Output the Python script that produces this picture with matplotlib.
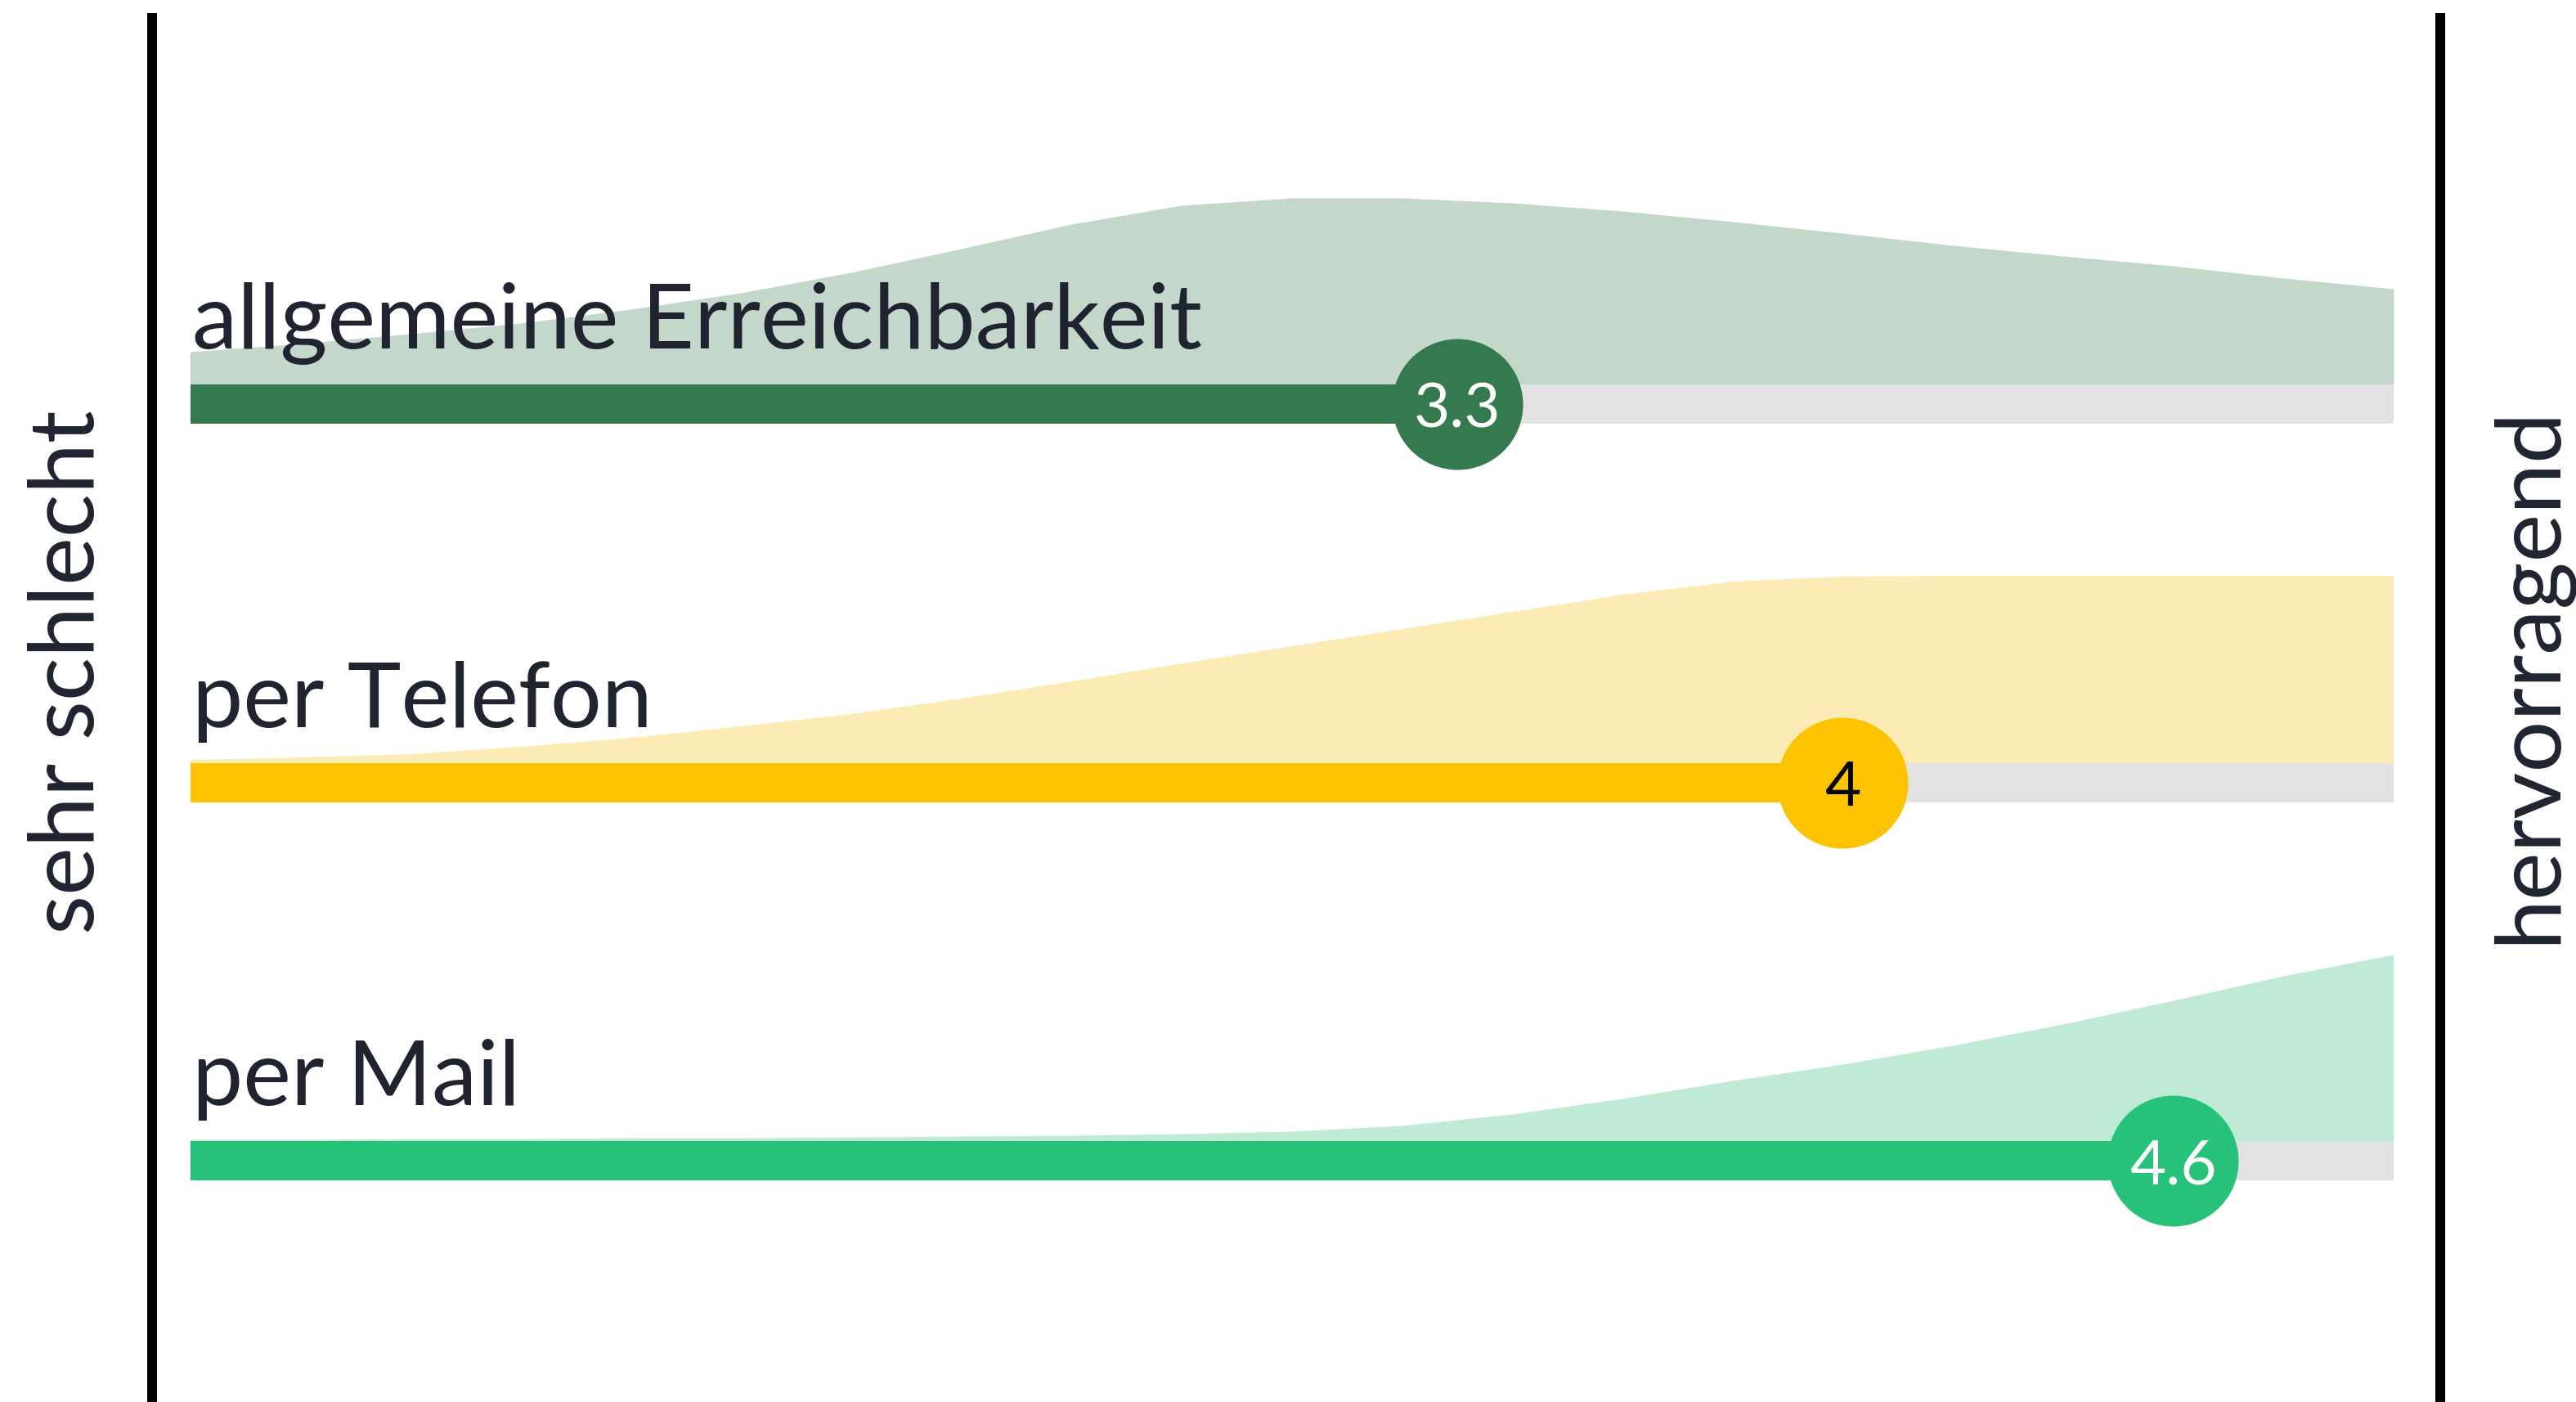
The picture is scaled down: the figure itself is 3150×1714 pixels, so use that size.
import numpy as np
import matplotlib
matplotlib.use("Agg")
import matplotlib.pyplot as plt

# ---------------- data ----------------
categories = ["allgemeine Erreichbarkeit", "per Telefon", "per Mail"]
values = [3.3, 4.0, 4.6]
value_labels = ["3.3", "4", "4.6"]
scale_min, scale_max = 1, 5
left_label = "sehr schlecht"
right_label = "hervorragend"

grid = [1.0, 1.2, 1.4, 1.6, 1.8, 2.0, 2.2, 2.4, 2.6, 2.8, 3.0,
        3.2, 3.4, 3.6, 3.8, 4.0, 4.2, 4.4, 4.6, 4.8, 5.0]
dens_general = [40, 50, 62, 75, 92, 112, 137, 166, 196, 219, 228,
                228, 222, 212, 199, 185, 170, 157, 145, 130, 117]
dens_phone = [4, 7, 11, 20, 31, 45, 60, 79, 100, 122, 143,
              164, 185, 206, 222, 228, 229, 229, 229, 229, 229]
dens_mail = [2, 2, 3, 3, 4, 4, 5, 6, 7, 9, 12,
             19, 33, 52, 74, 94, 117, 143, 172, 202, 228]
densities = [dens_general, dens_phone, dens_mail]

bar_colors = ["#357A4E", "#FCC400", "#27C27A"]
area_colors = ["#C3D8CB", "#FDEBB6", "#BFEBD6"]
num_colors = ["white", "#000000", "white"]
track_color = "#E2E2E2"
text_color = "#1F2430"

# ---------------- layout ----------------
W, H = 3150, 1714
dpi = 100
fig = plt.figure(figsize=(W / dpi, H / dpi), dpi=dpi)
ax = fig.add_axes([0, 0, 1, 1])
ax.set_axis_off()

px_per_unit = 673.6
x0_px = 232.5
row0_px = 494.0
row_px = 462.5
ax.set_xlim(1 - x0_px / px_per_unit, 1 + (W - x0_px) / px_per_unit)
ax.set_ylim((H - row0_px) / row_px, -row0_px / row_px)

font = ["Lato", "DejaVu Sans"]
bar_h = 48 / row_px
area_max = 229 / row_px

for i, (cat, val, lab) in enumerate(zip(categories, values, value_labels)):
    yc = i
    top = yc - bar_h / 2
    d = np.array(densities[i], dtype=float)
    d = d / 229.0
    ax.fill_between(grid, top, top - d * area_max, color=area_colors[i],
                    linewidth=0, zorder=1)
    ax.barh(yc, scale_max - scale_min, left=scale_min, height=bar_h,
            color=track_color, zorder=2, linewidth=0)
    ax.barh(yc, val - scale_min, left=scale_min, height=bar_h,
            color=bar_colors[i], zorder=3, linewidth=0)
    ax.scatter([val], [yc], s=(160 * 72 / dpi) ** 2, color=bar_colors[i],
               zorder=4, linewidths=0)
    ax.text(val, yc, lab, ha="center", va="center_baseline", color=num_colors[i],
            fontsize=55, family=font, zorder=5)
    ax.text(scale_min + 0.003, top - 44 / row_px, cat, ha="left", va="baseline",
            color=text_color, fontsize=80, family=font, zorder=5)

# side lines
for xp in (186, 2984):
    xv = 1 + (xp - x0_px) / px_per_unit
    ax.plot([xv, xv], [(16 - row0_px) / row_px, (H - row0_px) / row_px],
            color="black", linewidth=12 * 72 / dpi, solid_capstyle="butt", zorder=6)

ax.text(1 + (84 - x0_px) / px_per_unit, (822 - row0_px) / row_px, left_label,
        rotation=90, ha="center", va="center", color=text_color,
        fontsize=80, family=font)
ax.text(1 + (3094 - x0_px) / px_per_unit, (825 - row0_px) / row_px, right_label,
        rotation=90, ha="center", va="center", color=text_color,
        fontsize=80, family=font)

fig.savefig("out.png", dpi=dpi, facecolor="white")
